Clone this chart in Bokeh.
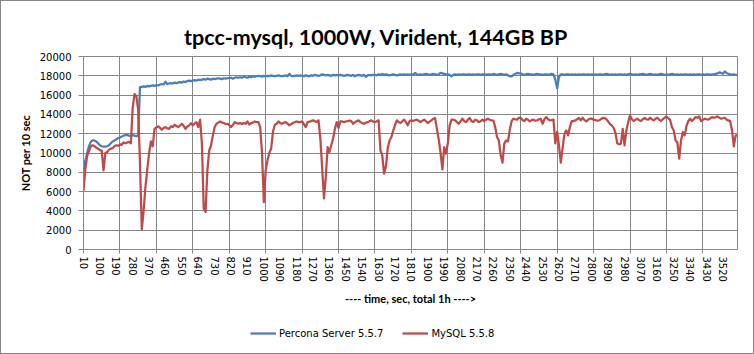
from bokeh.plotting import figure
from bokeh.models import (Range1d, FixedTicker, Legend, LegendItem,
                          NumeralTickFormatter, Column)
from bokeh.embed import file_html
from bokeh.resources import INLINE

# ---------------- data ----------------
title_text = "tpcc-mysql, 1000W, Virident, 144GB BP"
y_title = "NOT per 10 sec"
x_title = "---- time, sec, total 1h ---->"
series_names = ["Percona Server 5.5.7", "MySQL 5.5.8"]

times = list(range(10, 3610, 10))            # categories: 10 .. 3600 sec
label_times = list(range(10, 3601, 90))      # tick labels 10, 100, ..., 3520
grid_times = list(range(10, 3601, 200))      # tick marks / vertical gridlines
y_ticks = list(range(0, 20001, 2000))

percona = [
    7800, 9200, 10000, 10700, 11150, 11300, 11300, 11200, 11000, 10800, 10700, 10650, 10650, 10700, 10800, 11000, 11200, 11300, 11400, 11550,
    11600, 11700, 11800, 11850, 11850, 11800, 11750, 11850, 11800, 11750, 11800, 16800, 16850, 16900, 16850, 16950, 16900, 16950, 17000, 16950,
    17050, 17000, 17100, 17150, 17100, 17400, 17150, 17200, 17250, 17200, 17300, 17250, 17300, 17350, 17300, 17400, 17350, 17450, 17500, 17450,
    17500, 17550, 17500, 17600, 17550, 17600, 17650, 17600, 17700, 17650, 17600, 17700, 17650, 17700, 17750, 17700, 17650, 17750, 17700, 17750,
    17750, 17800, 17700, 17800, 17850, 17800, 17850, 17800, 17900, 17850, 17800, 17900, 17850, 17950, 17900, 17950, 18000, 17950, 17900, 18000,
    17950, 18000, 17950, 18050, 18000, 17950, 18000, 18050, 18000, 17950, 18000, 18050, 17950, 18200, 18000, 17950, 18000, 18050, 18000, 18050,
    18000, 17950, 18050, 18000, 17950, 18050, 18000, 18100, 18050, 18000, 18050, 18150, 18100, 18050, 18100, 18050, 18000, 18100, 18050, 18100,
    18050, 18100, 18050, 18000, 18050, 18100, 18050, 18000, 18100, 17950, 18050, 18100, 18050, 18000, 18100, 17900, 18050, 18100, 18050, 18100,
    18100, 18050, 18150, 18100, 18200, 18100, 18150, 18100, 18050, 18100, 18150, 18100, 18050, 18100, 18150, 18100, 18150, 18100, 18150, 18100,
    18150, 18100, 18300, 18150, 18100, 18150, 18100, 18150, 18200, 18150, 18100, 18150, 18200, 18150, 18100, 18150, 18300, 18250, 18200, 18150,
    18150, 18100, 17950, 18100, 18150, 18100, 18150, 18100, 18150, 18150, 18100, 18150, 18150, 18100, 18150, 18100, 18150, 18150, 18100, 18150,
    18150, 18100, 18150, 18150, 18100, 18200, 18150, 18100, 18150, 18200, 18150, 18100, 18150, 18050, 17950, 17950, 18100, 18200, 18300, 18250,
    18250, 18150, 18100, 18150, 18200, 18150, 18150, 18100, 18150, 18200, 18150, 18150, 18100, 18150, 18150, 18100, 18150, 18200, 18150, 17600,
    16700, 17900, 18150, 18150, 18100, 18150, 18150, 18100, 18150, 18100, 18150, 18100, 18150, 18100, 18150, 18150, 18100, 18150, 18100, 18150,
    18100, 18150, 18100, 18150, 18150, 18100, 18150, 18200, 18150, 18100, 18150, 18100, 18150, 18100, 18150, 18150, 18100, 18150, 18100, 18150,
    18200, 18150, 18100, 18150, 18100, 18150, 18150, 18200, 18150, 18100, 18150, 18200, 18150, 18100, 18150, 18100, 18150, 18200, 18150, 18100,
    18150, 18100, 18150, 18200, 18150, 18100, 18150, 18100, 18150, 18100, 18150, 18150, 18100, 18150, 18100, 18150, 18100, 18150, 18150, 18100,
    18150, 18100, 18150, 18150, 18100, 18150, 18150, 18200, 18250, 18350, 18300, 18200, 18450, 18300, 18200, 18150, 18100, 18150, 18100, 18100,
]

mysql = [
    6100, 8300, 9700, 10200, 10700, 10800, 10700, 10550, 10450, 10300, 10250, 8200, 10000, 10100, 10350, 10450, 10500, 10700, 10800, 10750,
    10900, 10850, 11100, 11000, 11100, 11150, 11000, 14700, 16100, 15900, 14500, 9000, 2100, 4000, 6500, 8300, 10000, 11200, 10700, 12500,
    12650, 12760, 12600, 12410, 12600, 12690, 12550, 12510, 12760, 12700, 12930, 12800, 12690, 12850, 13030, 12800, 12510, 12750, 12860, 13100,
    12860, 13050, 13200, 12690, 13450, 10960, 4240, 3890, 8200, 10270, 10790, 11820, 12700, 13030, 13150, 13270, 13150, 13100, 13000, 13030,
    12900, 12690, 12900, 13200, 13100, 13050, 13100, 13000, 13100, 13030, 13270, 12950, 13100, 13150, 13270, 13200, 13200, 12690, 10000, 4900,
    8200, 9240, 10000, 10440, 12200, 12900, 13030, 13270, 13100, 13030, 13150, 13200, 13050, 12860, 13000, 13100, 13200, 13270, 13200, 13200,
    13270, 13000, 12690, 13200, 13250, 13300, 13380, 13300, 13200, 13380, 11500, 8500, 5300, 7500, 10620, 10100, 10800, 11500, 12510, 13200,
    12600, 13270, 13270, 13200, 13270, 13300, 13350, 13300, 13030, 13200, 13300, 13380, 13200, 13100, 13030, 13150, 13200, 13300, 13380, 13250,
    13200, 13300, 13380, 10270, 9760, 7860, 8600, 10500, 11300, 11650, 12300, 12900, 13380, 13200, 13100, 13300, 13450, 13200, 12860, 13300,
    13380, 13310, 13400, 13450, 13350, 13200, 13350, 13450, 13300, 13100, 13250, 13380, 13550, 13620, 12500, 11400, 10000, 8300, 10600, 9930,
    11000, 12860, 13450, 13450, 13380, 13200, 13030, 13300, 13550, 13300, 13200, 13450, 13620, 13300, 13200, 13450, 13380, 13200, 13300, 13450,
    13310, 13450, 13550, 13450, 13380, 13350, 12690, 11650, 11300, 9800, 9000, 11000, 11300, 11200, 12400, 13300, 13550, 13500, 13450, 13650,
    13650, 13400, 13310, 13550, 13450, 13270, 13400, 13450, 13350, 13380, 13500, 13550, 13030, 13500, 13720, 13500, 13380, 13400, 13450, 11000,
    12200, 10800, 9000, 10500, 12000, 12340, 11820, 12690, 13310, 13300, 13380, 13500, 13620, 13380, 13650, 13400, 13270, 13450, 13550, 13550,
    13450, 13400, 13350, 13380, 13500, 13620, 13650, 13500, 13270, 13000, 12860, 12600, 12100, 11000, 10900, 10960, 12510, 10790, 12340, 13200,
    13900, 13500, 13310, 13450, 13550, 13400, 13310, 13500, 13620, 13500, 13450, 13650, 13500, 13380, 13550, 13650, 13450, 13310, 13500, 13650,
    13790, 13600, 13450, 12690, 12340, 11300, 11100, 9410, 11300, 12170, 11820, 12800, 13310, 13550, 13310, 13500, 13720, 13650, 13790, 13310,
    13450, 13550, 13500, 13450, 13600, 13720, 13650, 13700, 13790, 13650, 13550, 13600, 13650, 13450, 13380, 13300, 12340, 10690, 11820, 11820,
]

# ---------------- styles ----------------
GRID = "#868686"
BLUE = "#4A7EBB"
RED = "#BE4B48"
TICK_FONT = "DejaVu Sans"
TITLE_FONT = "Lato"
LINE_W = 2.25

p = figure(width=752, height=316, output_backend="svg", toolbar_location=None,
           x_range=Range1d(times[0], times[-1]), y_range=Range1d(0, 20000),
           min_border_left=82, min_border_right=16, min_border_top=55,
           min_border_bottom=68, background_fill_color="white",
           border_fill_color="white")
p.outline_line_color = GRID
p.outline_line_width = 1

# title (shifted so that it sits centred on the whole chart)
p.title.text = title_text
p.title.align = "left"
p.title.offset = 100.5
p.title.text_font = TITLE_FONT
p.title.text_font_style = "bold"
p.title.text_font_size = "21.5px"
p.title.text_color = "black"
p.title.vertical_align = "bottom"
p.title.standoff = 13

r1 = p.line(times[:len(percona)], percona, line_color=BLUE, line_width=LINE_W,
            line_join="round")
r2 = p.line(times[:len(mysql)], mysql, line_color=RED, line_width=LINE_W,
            line_join="round")

# x axis
xa = p.xaxis[0]
xa.ticker = FixedTicker(ticks=label_times, minor_ticks=grid_times)
xa.formatter = NumeralTickFormatter(format="0")
xa.major_label_orientation = "vertical"
xa.major_tick_line_color = None
xa.major_tick_in = 0
xa.major_tick_out = 0
xa.minor_tick_line_color = GRID
xa.minor_tick_in = 0
xa.minor_tick_out = 4
xa.axis_line_color = GRID
xa.major_label_standoff = 3
xa.major_label_text_font = TICK_FONT
xa.major_label_text_font_size = "10px"
xa.major_label_text_color = "black"
xa.axis_label = x_title
xa.axis_label_text_font = TITLE_FONT
xa.axis_label_text_font_style = "bold"
xa.axis_label_text_font_size = "11px"
xa.axis_label_text_color = "black"
xa.axis_label_standoff = 7

# y axis
ya = p.yaxis[0]
ya.ticker = FixedTicker(ticks=y_ticks)
ya.formatter = NumeralTickFormatter(format="0")
ya.major_tick_line_color = GRID
ya.major_tick_in = 0
ya.major_tick_out = 5
ya.minor_tick_line_color = None
ya.axis_line_color = GRID
ya.major_label_standoff = 7
ya.major_label_text_font = TICK_FONT
ya.major_label_text_font_size = "10px"
ya.major_label_text_color = "black"
ya.axis_label = y_title
ya.axis_label_text_font = TITLE_FONT
ya.axis_label_text_font_style = "bold"
ya.axis_label_text_font_size = "11px"
ya.axis_label_text_color = "black"
ya.axis_label_standoff = 5

p.xgrid.ticker = FixedTicker(ticks=grid_times)
p.ygrid.ticker = FixedTicker(ticks=y_ticks)
for g in (p.xgrid[0], p.ygrid[0]):
    g.grid_line_color = GRID
    g.grid_line_width = 1

# legend strip below the chart (a bare figure that only holds the legend;
# its two key lines lie outside its visible range)
lg = figure(width=752, height=36, output_backend="svg", toolbar_location=None,
            x_range=Range1d(0, 1), y_range=Range1d(0, 1),
            x_axis_location=None, y_axis_location=None,
            min_border_left=0, min_border_right=0, min_border_top=0,
            min_border_bottom=0, background_fill_color="white",
            border_fill_color="white")
lg.outline_line_color = None
lg.xgrid.visible = False
lg.ygrid.visible = False
k1 = lg.line([-10, -9], [-10, -9], line_color=BLUE, line_width=LINE_W)
k2 = lg.line([-10, -9], [-10, -9], line_color=RED, line_width=LINE_W)
legend = Legend(items=[LegendItem(label=series_names[0], renderers=[k1]),
                       LegendItem(label=series_names[1], renderers=[k2])],
                orientation="horizontal", location=(167, 10),
                padding=0, margin=0, spacing=19, glyph_width=26,
                glyph_height=20, label_height=20, label_standoff=3,
                label_text_font=TICK_FONT, label_text_font_size="10px",
                label_text_color="black", border_line_color=None,
                background_fill_alpha=0)
lg.add_layout(legend)

root = Column(children=[p, lg], spacing=0,
              styles={"border": "1px solid #868686"})

open("out.html", "w").write(file_html(root, INLINE))
